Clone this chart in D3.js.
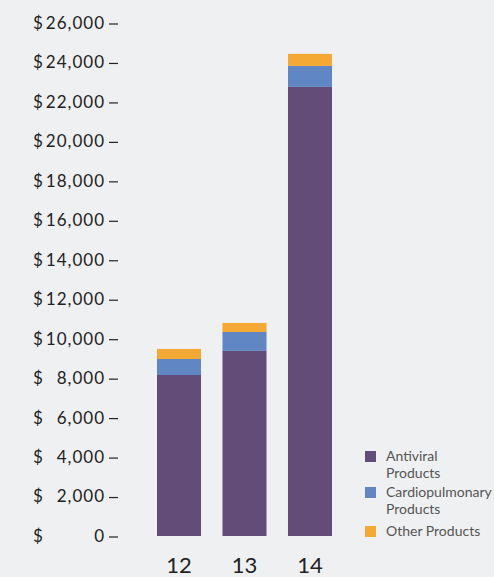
<!DOCTYPE html>
<html>
<head>
<meta charset="utf-8">
<script src="https://cdn.jsdelivr.net/npm/d3@7"></script>
<style>
  body { margin: 0; background: #eff0f2; }
  svg { display: block; font-family: Lato, "Open Sans", sans-serif; }
</style>
</head>
<body>
<svg id="chart"></svg>
<script>
// data (millions of dollars)
var years = ["12", "13", "14"];
var antiviral = [8160, 9380, 22760];
var cardiopulmonary = [810, 960, 1065];
var other = [510, 460, 610];
var yTicks = [0, 2000, 4000, 6000, 8000, 10000, 12000, 14000, 16000, 18000, 20000, 22000, 24000, 26000];
var seriesNames = ["Antiviral Products", "Cardiopulmonary Products", "Other Products"];
var legendLines = [["Antiviral", "Products"], ["Cardiopulmonary", "Products"], ["Other Products"]];
var colors = ["#634c77", "#6186c4", "#f4a935"];

var w = 494;
var h = 577;

var svg = d3.select("#chart").attr("width", w).attr("height", h);

svg.append("rect").attr("width", w).attr("height", h).attr("fill", "#eff0f2");

// build rows for the stack
var rows = years.map(function(d, i) {
    return {
        year: d,
        "Antiviral Products": antiviral[i],
        "Cardiopulmonary Products": cardiopulmonary[i],
        "Other Products": other[i]
    };
});

var stacked = d3.stack().keys(seriesNames)(rows);

var x = d3.scaleBand()
    .domain(years)
    .range([157, 332])
    .paddingInner(0.328)
    .paddingOuter(0);

var y = d3.scaleLinear()
    .domain([0, 26000])
    .range([536, 23]);

// bars
svg.selectAll(".layer")
    .data(stacked)
    .enter()
    .append("g")
    .attr("class", "layer")
    .attr("fill", function(d, i) { return colors[i]; })
    .selectAll("rect")
    .data(function(d) { return d; })
    .enter()
    .append("rect")
    .attr("x", function(d) { return x(d.data.year); })
    .attr("width", x.bandwidth())
    .attr("y", function(d) { return y(d[1]); })
    .attr("height", function(d) { return y(d[0]) - y(d[1]); });

// y axis labels: "$" left, number right-aligned, then a dash as the tick
var fmt = d3.format(",");
var tick = svg.selectAll(".ytick")
    .data(yTicks)
    .enter()
    .append("g")
    .attr("class", "ytick")
    .attr("transform", function(d) { return "translate(0," + y(d) + ")"; })
    .style("font-size", "17px")
    .style("fill", "#222");

tick.append("text")
    .attr("x", 33)
    .attr("dy", "0.35em")
    .text("$");

tick.append("text")
    .attr("x", 105)
    .attr("dy", "0.35em")
    .attr("text-anchor", "end")
    .style("letter-spacing", "1px")
    .text(function(d) { return fmt(d); });

tick.append("line")
    .attr("x1", 109)
    .attr("x2", 118)
    .attr("y1", 1)
    .attr("y2", 1)
    .attr("stroke", "#222")
    .attr("stroke-width", 1.2);

// x labels
svg.selectAll(".xlabel")
    .data(years)
    .enter()
    .append("text")
    .attr("class", "xlabel")
    .attr("x", function(d) { return x(d) + x.bandwidth() / 2; })
    .attr("y", 573)
    .attr("text-anchor", "middle")
    .style("font-size", "22px")
    .style("fill", "#222")
    .text(function(d) { return d; });

// legend
var legendY = [451, 487, 526];
var legend = svg.selectAll(".legend")
    .data(seriesNames)
    .enter()
    .append("g")
    .attr("class", "legend")
    .attr("transform", function(d, i) { return "translate(365," + legendY[i] + ")"; });

legend.append("rect")
    .attr("width", 11)
    .attr("height", 11)
    .attr("fill", function(d, i) { return colors[i]; });

legend.append("text")
    .attr("x", 21)
    .attr("y", 10)
    .style("font-size", "14px")
    .style("fill", "#555")
    .selectAll("tspan")
    .data(function(d, i) { return legendLines[i]; })
    .enter()
    .append("tspan")
    .attr("x", 21)
    .attr("dy", function(d, j) { return j === 0 ? 0 : 16.5; })
    .text(function(d) { return d; });
</script>
</body>
</html>
